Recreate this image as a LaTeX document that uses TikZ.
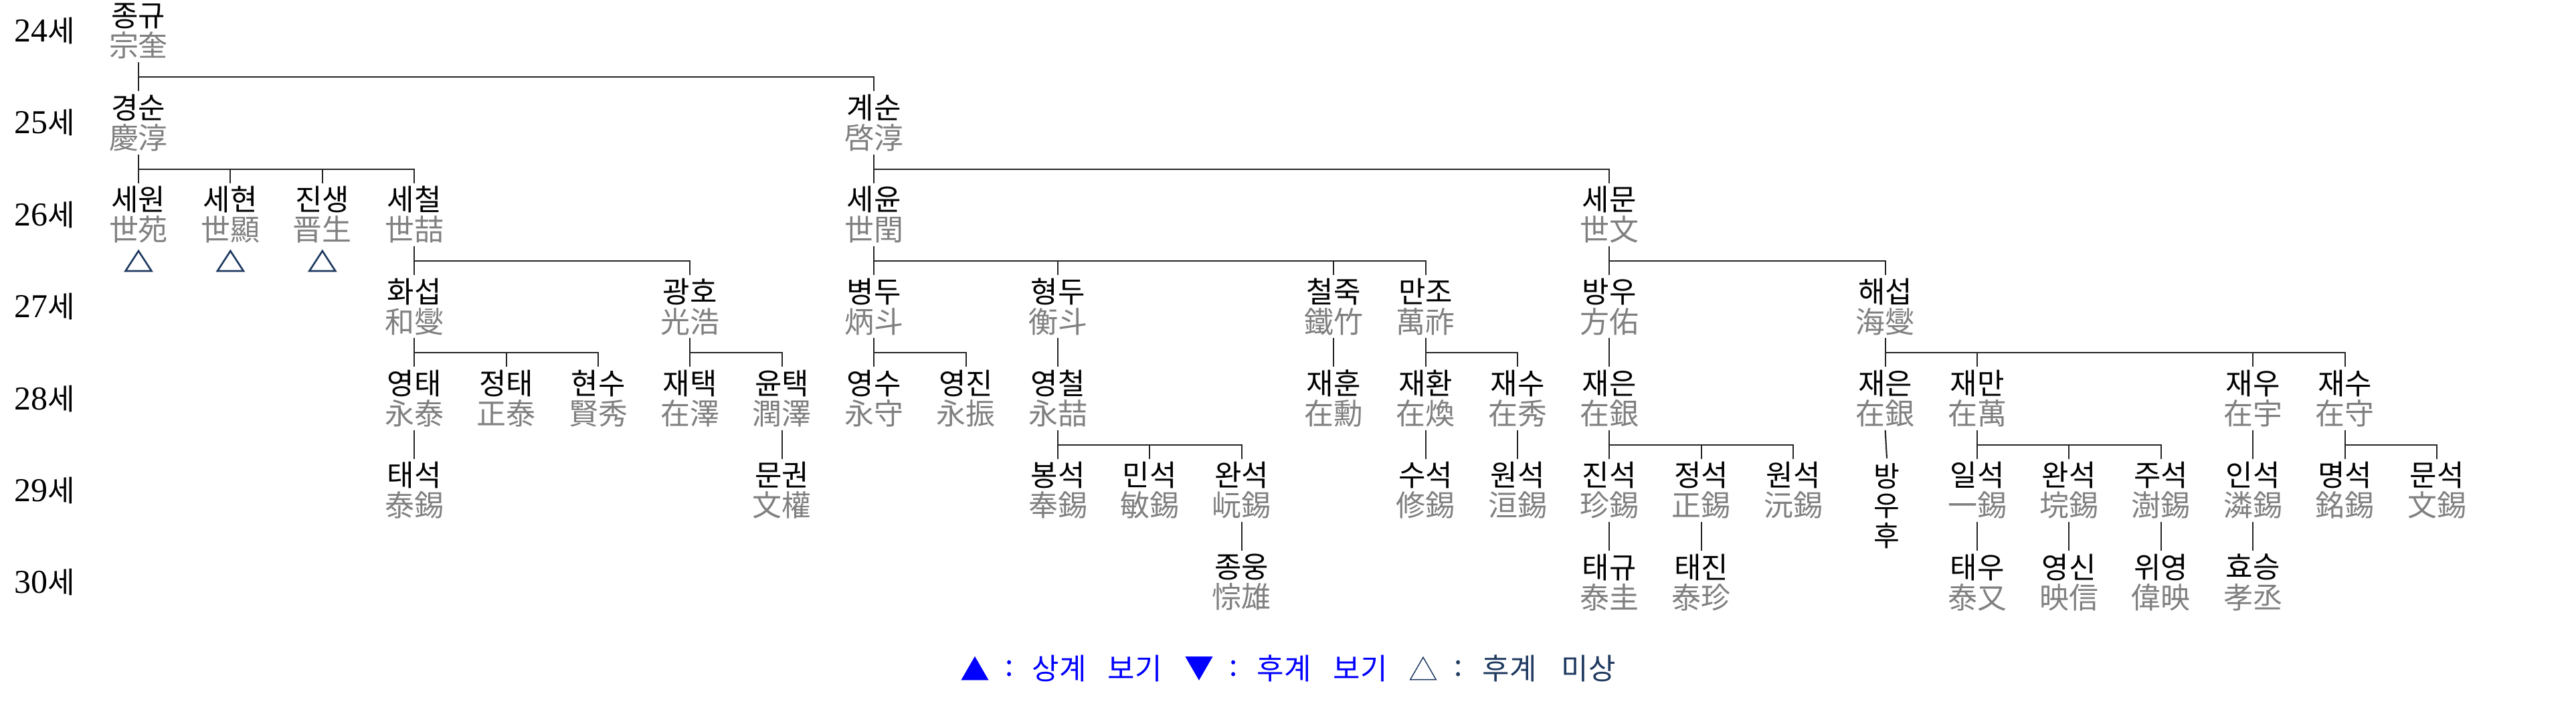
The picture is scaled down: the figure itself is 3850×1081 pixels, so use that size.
\documentclass[tikz,border=0pt]{standalone}
\usepackage{fontspec}
\setmainfont{Noto Sans CJK KR}
\newfontfamily\digitfont{Liberation Serif}
\usetikzlibrary{calc}
\definecolor{hz}{HTML}{808080}
\definecolor{navy}{HTML}{1F3A60}
\definecolor{lblue}{HTML}{0000FF}
\tikzset{
  pnode/.style={inner sep=0pt, minimum height=0.93cm, align=center,
    font=\fontsize{12.5pt}{12.8pt}\selectfont},
  conn/.style={draw=black!85, line width=0.6pt},
  gen/.style={inner sep=0pt, font=\fontsize{12.5pt}{13pt}\selectfont},
  tri/.style={draw=navy, line width=0.75pt, line join=miter},
  legend/.style={inner sep=0pt, font=\fontsize{12.5pt}{13pt}\selectfont},
}
\newcommand\person[5]{\node[pnode] (#1) at ({207+137.4*#2},{-(46+137.4*(#3-24))}) {#4\\{\color{hz}#5}};}
\newcommand\famly[3]{%
  \draw[conn] (#1.south) |- ($(#2.north)+(0,21)$) -- (#2.north);
  \foreach \kk in {#3} {\draw[conn] (\kk.north) -- ++(0,21);}}
\newcommand\onekid[2]{\draw[conn] (#1.south) -- (#2.north);}
\newcommand\genlabel[2]{\node[gen] (g#1) at (67,{-(46+137.4*(#1-24))}) {{\digitfont\fontsize{14.2pt}{14pt}\selectfont #1}세};}
\begin{document}
\begin{tikzpicture}[x=0.01cm,y=0.01cm]
\fill[white] (0,0) rectangle (3850,-1081);
\useasboundingbox (0,0) rectangle (3850,-1081);
% generation labels
\foreach \g in {24,...,30} {\genlabel{\g}{}}
% persons
\person{n0_24}{0}{24}{종규}{宗奎}
\person{n0_25}{0}{25}{경순}{慶淳}
\person{n8_25}{8}{25}{계순}{啓淳}
\person{n0_26}{0}{26}{세원}{世苑}
\person{n1_26}{1}{26}{세현}{世顯}
\person{n2_26}{2}{26}{진생}{晋生}
\person{n3_26}{3}{26}{세철}{世喆}
\person{n8_26}{8}{26}{세윤}{世閏}
\person{n16_26}{16}{26}{세문}{世文}
\person{n3_27}{3}{27}{화섭}{和燮}
\person{n6_27}{6}{27}{광호}{光浩}
\person{n8_27}{8}{27}{병두}{炳斗}
\person{n10_27}{10}{27}{형두}{衡斗}
\person{n13_27}{13}{27}{철죽}{鐵竹}
\person{n14_27}{14}{27}{만조}{萬祚}
\person{n16_27}{16}{27}{방우}{方佑}
\person{n19_27}{19}{27}{해섭}{海燮}
\person{n3_28}{3}{28}{영태}{永泰}
\person{n4_28}{4}{28}{정태}{正泰}
\person{n5_28}{5}{28}{현수}{賢秀}
\person{n6_28}{6}{28}{재택}{在澤}
\person{n7_28}{7}{28}{윤택}{潤澤}
\person{n8_28}{8}{28}{영수}{永守}
\person{n9_28}{9}{28}{영진}{永振}
\person{n10_28}{10}{28}{영철}{永喆}
\person{n13_28}{13}{28}{재훈}{在勳}
\person{n14_28}{14}{28}{재환}{在煥}
\person{n15_28}{15}{28}{재수}{在秀}
\person{n16_28}{16}{28}{재은}{在銀}
\person{n19_28}{19}{28}{재은}{在銀}
\person{n20_28}{20}{28}{재만}{在萬}
\person{n23_28}{23}{28}{재우}{在宇}
\person{n24_28}{24}{28}{재수}{在守}
\person{n3_29}{3}{29}{태석}{泰錫}
\person{n7_29}{7}{29}{문권}{文權}
\person{n10_29}{10}{29}{봉석}{奉錫}
\person{n11_29}{11}{29}{민석}{敏錫}
\person{n12_29}{12}{29}{완석}{岏錫}
\person{n14_29}{14}{29}{수석}{修錫}
\person{n15_29}{15}{29}{원석}{洹錫}
\person{n16_29}{16}{29}{진석}{珍錫}
\person{n17_29}{17}{29}{정석}{正錫}
\person{n18_29}{18}{29}{원석}{沅錫}
\person{n20_29}{20}{29}{일석}{一錫}
\person{n21_29}{21}{29}{완석}{垸錫}
\person{n22_29}{22}{29}{주석}{澍錫}
\person{n23_29}{23}{29}{인석}{潾錫}
\person{n24_29}{24}{29}{명석}{銘錫}
\person{n25_29}{25}{29}{문석}{文錫}
\person{n12_30}{12}{30}{종웅}{悰雄}
\person{n16_30}{16}{30}{태규}{泰圭}
\person{n17_30}{17}{30}{태진}{泰珍}
\person{n20_30}{20}{30}{태우}{泰又}
\person{n21_30}{21}{30}{영신}{映信}
\person{n22_30}{22}{30}{위영}{偉映}
\person{n23_30}{23}{30}{효승}{孝丞}
\node[inner xsep=0pt, inner ysep=0.07cm, anchor=north, align=center,
  font=\fontsize{12pt}{12.6pt}\selectfont] (bwh) at (2820,-685) {방\\우\\후};
% connectors
\famly{n0_24}{n8_25}{n0_25}
\famly{n0_25}{n3_26}{n0_26,n1_26,n2_26}
\famly{n3_26}{n6_27}{n3_27}
\famly{n3_27}{n5_28}{n3_28,n4_28}
\onekid{n3_28}{n3_29}
\famly{n6_27}{n7_28}{n6_28}
\onekid{n7_28}{n7_29}
\famly{n8_25}{n16_26}{n8_26}
\famly{n8_26}{n14_27}{n8_27,n10_27,n13_27}
\famly{n8_27}{n9_28}{n8_28}
\onekid{n10_27}{n10_28}
\famly{n10_28}{n12_29}{n10_29,n11_29}
\onekid{n12_29}{n12_30}
\onekid{n13_27}{n13_28}
\famly{n14_27}{n15_28}{n14_28}
\onekid{n14_28}{n14_29}
\onekid{n15_28}{n15_29}
\famly{n16_26}{n19_27}{n16_27}
\onekid{n16_27}{n16_28}
\famly{n16_28}{n18_29}{n16_29,n17_29}
\onekid{n16_29}{n16_30}
\onekid{n17_29}{n17_30}
\famly{n19_27}{n24_28}{n19_28,n20_28,n23_28}
\onekid{n19_28}{bwh}
\famly{n20_28}{n22_29}{n20_29,n21_29}
\onekid{n20_29}{n20_30}
\onekid{n21_29}{n21_30}
\onekid{n22_29}{n22_30}
\onekid{n23_28}{n23_29}
\onekid{n23_29}{n23_30}
\famly{n24_28}{n25_29}{n24_29}
% unknown-descendant marks
\foreach \p in {n0_26,n1_26,n2_26} {
  \draw[tri] ($(\p.south)+(0,-7)$) -- ++(19.5,-30) -- ++(-39,0) -- cycle;}
% legend
\node[legend, text=lblue] (l1) at (1457,-999) {▲};
\node[legend, text=lblue] (l2) at (1509,-999) {:};
\node[legend, text=lblue] (l3) at (1583,-999) {상계};
\node[legend, text=lblue] (l4) at (1696,-999) {보기};
\node[legend, text=lblue] (l5) at (1792,-999) {▼};
\node[legend, text=lblue] (l6) at (1844,-999) {:};
\node[legend, text=lblue] (l7) at (1919,-999) {후계};
\node[legend, text=lblue] (l8) at (2033,-999) {보기};
\node[legend, text=navy] (l9) at (2127,-999) {△};
\node[legend, text=navy] (l10) at (2180,-999) {:};
\node[legend, text=navy] (l11) at (2256,-999) {후계};
\node[legend, text=navy] (l12) at (2374,-999) {미상};
\end{tikzpicture}
\end{document}
